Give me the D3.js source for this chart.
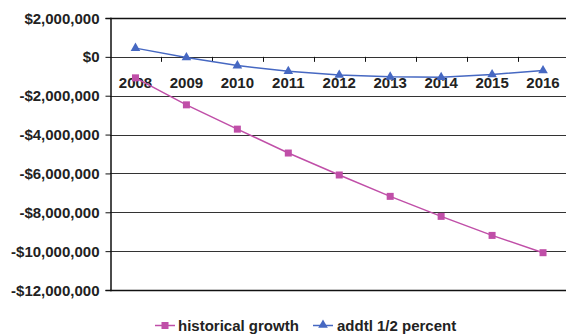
<!DOCTYPE html>
<html><head><meta charset="utf-8">
<script src="https://cdn.jsdelivr.net/npm/d3@7"></script>
<style>body{margin:0;background:#fff}svg{display:block}</style>
</head><body>
<svg id="c" width="566" height="335"></svg>
<script>
const years = ["2008","2009","2010","2011","2012","2013","2014","2015","2016"];
const historicalGrowth = [-1080000,-2470000,-3720000,-4950000,-6080000,-7180000,-8210000,-9190000,-10080000];
const addtlHalfPercent = [450000,-30000,-450000,-740000,-930000,-1030000,-1050000,-910000,-700000];
const yTicks = [2000000,0,-2000000,-4000000,-6000000,-8000000,-10000000,-12000000];
const seriesNames = ["historical growth","addtl 1/2 percent"];

const svg = d3.select("#c");
const L = 110, R = 568.5, T = 18, B = 290;
const x = d3.scaleBand().domain(years).range([L, R]);
const y = d3.scaleLinear().domain([-12000000, 2000000]).range([B, T]);
const font = "'Liberation Sans', Arial, sans-serif";
const fmt = v => (v < 0 ? "-$" : "$") + d3.format(",")(Math.abs(v));

// gridlines
svg.append("g").selectAll("line").data(yTicks).join("line")
  .attr("x1", L).attr("x2", R)
  .attr("y1", d => Math.round(y(d)) + 0.5).attr("y2", d => Math.round(y(d)) + 0.5)
  .attr("stroke", d => (d === 2000000 || d === -12000000) ? "#111" : "#333")
  .attr("stroke-width", d => (d === 2000000 || d === -12000000) ? 1.5 : 1);

// y axis
const yAxis = d3.axisLeft(y).tickValues(yTicks).tickFormat(fmt).tickSize(5).tickPadding(6);
const ga = svg.append("g").attr("transform", `translate(${L + 0.5},0)`).call(yAxis);
ga.select(".domain").attr("stroke", "#111").attr("stroke-width", 1.5);
ga.selectAll(".tick line").attr("stroke", "#111");
ga.selectAll("text").attr("font-family", font).attr("font-weight", "bold")
  .attr("font-size", 15).attr("fill", "#222").attr("dy", "0.34em");

// x axis at zero
const xAxis = d3.axisBottom(x).tickSize(0).tickPadding(0);
const gx = svg.append("g").attr("transform", `translate(0,${Math.round(y(0)) + 0.5})`).call(xAxis);
gx.select(".domain").remove();
gx.selectAll("text").attr("font-family", font).attr("font-weight", "bold")
  .attr("font-size", 15).attr("fill", "#222").attr("y", 30).attr("dy", 0);
// ticks between categories
svg.append("g").selectAll("line").data(years.slice(1)).join("line")
  .attr("x1", d => Math.round(x(d)) + 0.5).attr("x2", d => Math.round(x(d)) + 0.5)
  .attr("y1", y(0)).attr("y2", y(0) + 5).attr("stroke", "#111");

const cx = d => x(d) + x.bandwidth() / 2;
const pink = "#C04FA8", blue = "#4668C2";

// historical growth
svg.append("path").datum(historicalGrowth)
  .attr("d", d3.line().x((d, i) => cx(years[i])).y(d => y(d)))
  .attr("fill", "none").attr("stroke", pink).attr("stroke-width", 1.5);
svg.append("g").selectAll("rect").data(historicalGrowth).join("rect")
  .attr("x", (d, i) => cx(years[i]) - 3.5).attr("y", d => y(d) - 3.5)
  .attr("width", 7).attr("height", 7).attr("fill", pink);

// addtl 1/2 percent
svg.append("path").datum(addtlHalfPercent)
  .attr("d", d3.line().x((d, i) => cx(years[i])).y(d => y(d)))
  .attr("fill", "none").attr("stroke", blue).attr("stroke-width", 1.5);
const tri = d3.symbol().type(d3.symbolTriangle).size(40);
svg.append("g").selectAll("path").data(addtlHalfPercent).join("path")
  .attr("d", tri).attr("transform", (d, i) => `translate(${cx(years[i])},${y(d)})`)
  .attr("fill", blue);

// legend
const lg = svg.append("g").attr("font-family", font).attr("font-weight", "bold").attr("font-size", 15).attr("fill", "#222");
lg.append("line").attr("x1", 155).attr("x2", 175).attr("y1", 325.5).attr("y2", 325.5).attr("stroke", pink).attr("stroke-width", 1.5);
lg.append("rect").attr("x", 161.5).attr("y", 322).attr("width", 7).attr("height", 7).attr("fill", pink);
lg.append("text").attr("x", 178).attr("y", 331).text(seriesNames[0]);
lg.append("line").attr("x1", 313).attr("x2", 333).attr("y1", 325.5).attr("y2", 325.5).attr("stroke", blue).attr("stroke-width", 1.5);
lg.append("path").attr("d", tri).attr("transform", "translate(323,325)").attr("fill", blue);
lg.append("text").attr("x", 337).attr("y", 331).text(seriesNames[1]);
</script>
</body></html>
